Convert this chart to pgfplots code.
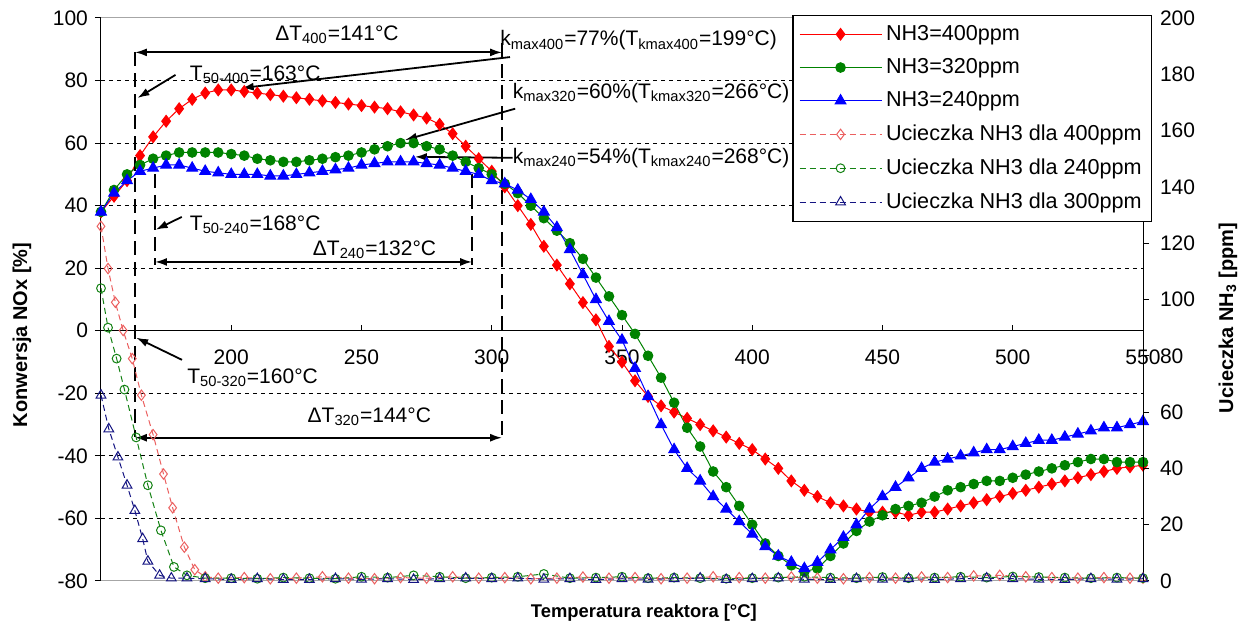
\documentclass[border=0pt]{standalone}
\usepackage{fontspec}
\setmainfont{Liberation Sans}
\usepackage{pgfplots}
\pgfplotsset{compat=1.18}
\usetikzlibrary{arrows.meta}

\definecolor{cRed}{RGB}{255,0,0}
\definecolor{cGreen}{RGB}{0,130,0}
\definecolor{cBlue}{RGB}{0,0,255}
\definecolor{sRed}{RGB}{235,95,95}
\definecolor{sGreen}{RGB}{20,130,20}
\definecolor{sBlue}{RGB}{20,20,130}

\pgfplotsset{
  nox400/.style={cRed, line width=0.5pt, mark=diamond*, mark size=2.9pt, mark options={solid, fill=cRed}},
  nox320/.style={cGreen, line width=0.5pt, mark=*, mark size=2.4pt, mark options={solid, fill=cGreen}},
  nox240/.style={cBlue, line width=0.5pt, mark=triangle*, mark size=3.1pt, mark options={solid, fill=cBlue}},
  slip400/.style={sRed, line width=0.5pt, dash pattern=on 3pt off 2pt, mark=diamond, mark size=2.6pt, mark options={solid, fill=white}},
  slip240/.style={sGreen, line width=0.5pt, dash pattern=on 3pt off 2pt, mark=o, mark size=2.2pt, mark options={solid, fill=white}},
  slip300/.style={sBlue, line width=0.5pt, dash pattern=on 3pt off 2pt, mark=triangle, mark size=2.8pt, mark options={solid, fill=white}},
}

\newcommand{\ann}{\fontsize{10.5}{12.5}\selectfont}

\begin{document}
\begin{tikzpicture}
\begin{axis}[
  scale only axis, width=521pt, height=281.5pt,
  xmin=150, xmax=550, ymin=-80, ymax=100,
  axis x line*=middle, axis y line*=left, axis line style={-, black, line width=0.5pt},
  xtick={150,200,...,550}, ytick={-80,-60,...,100},
  minor ytick={-60,-40,-20,20,40,60,80}, yminorgrids,
  minor grid style={black, line width=0.5pt, dash pattern=on 2pt off 2pt},
  minor tick length=0pt, major tick length=3pt,
  ytick align=outside, xtick align=inside, tick style={black, line width=0.5pt},
  /pgf/number format/assume math mode=true,
  ticklabel style={font=\fontsize{10.5}{12}\selectfont},
  xticklabel style={yshift=-6pt},
  xlabel={\textbf{Temperatura reaktora [°C]}},
  ylabel={\textbf{Konwersja NOx [\%]}},
  xlabel style={font=\fontsize{9.2}{11}\selectfont, at={(axis description cs:0.521,-0.057)}, anchor=center},
  ylabel style={font=\fontsize{10}{12}\selectfont, at={(axis description cs:-0.0758,0.437)}, anchor=center},
  clip=false,
]
\draw[gray!70, line width=0.5pt] (rel axis cs:0,1) -- (rel axis cs:1,1);
\draw[gray!70, line width=0.5pt] (rel axis cs:0,0) -- (rel axis cs:1,0);

% NH3 = 400 ppm
\addplot[nox400] table {
150 38
155 43
160 48
165 56
170 62
175 67
180 71
185 74
190 76
195 77
200 77
205 76.5
210 76
215 75.5
220 75
225 74.5
230 74
235 73.5
240 73
245 72.5
250 72
255 71.5
260 71
265 70
270 69
275 68
280 66
285 63
290 59
295 55
300 51
305 46
310 40
315 34
320 27
325 21
330 15
335 9
340 3.5
345 -5
350 -10
355 -16
360 -21
365 -24
370 -26
375 -28
380 -30
385 -32
390 -34
395 -36
400 -38
405 -41
410 -44
415 -48
420 -51
425 -53
430 -55
435 -56
440 -57
445 -58
450 -58
455 -58
460 -59
465 -58
470 -58
475 -57
480 -56
485 -55
490 -54
495 -53
500 -52
505 -51
510 -50
515 -49
520 -48
525 -47
530 -46
535 -45
540 -44
545 -43.5
550 -43
};
% NH3 = 320 ppm
\addplot[nox320] table {
150 38
155 45
160 50
165 53
170 55
175 56
180 57
185 57
190 57
195 57
200 56.5
205 56
210 55
215 54.5
220 54
225 54
230 54.5
235 55
240 55.5
245 56
250 57
255 58
260 59
265 60
270 60
275 59
280 58
285 56
290 54
295 52
300 50
305 47
310 44
315 40
320 36
325 32
330 28
335 23
340 17
345 11
350 5
355 -1
360 -8
365 -15
370 -23
375 -31
380 -37
385 -45
390 -50
395 -56
400 -62
405 -68
410 -72
415 -75
420 -77
425 -76
430 -72
435 -68
440 -64
445 -61
450 -59
455 -57
460 -56
465 -55
470 -53
475 -51
480 -50
485 -49
490 -48
495 -48
500 -47
505 -46
510 -45
515 -44
520 -43
525 -42
530 -41
535 -41
540 -42
545 -42
550 -42
};
% NH3 = 240 ppm
\addplot[nox240] table {
150 38
155 44
160 48
165 51
170 52
175 53
180 53
185 52
190 51
195 50.5
200 50
205 50
210 50
215 49.5
220 49.5
225 50
230 50.5
235 51
240 51.5
245 52
250 53
255 53.5
260 54
265 54
270 54
275 53.5
280 53
285 52
290 51
295 50
300 48
305 47
310 45
315 42
320 38
325 33
330 26
335 18
340 10
345 3
350 -3
355 -12
360 -21
365 -30
370 -38
375 -44
380 -48
385 -53
390 -57
395 -61
400 -65
405 -69
410 -72
415 -74
420 -76
425 -74
430 -70
435 -66
440 -62
445 -57
450 -53
455 -50
460 -47
465 -44
470 -42
475 -41
480 -40
485 -39
490 -38
495 -38
500 -37
505 -36
510 -35
515 -35
520 -34
525 -33
530 -32
535 -31
540 -31
545 -30
550 -29
};

% annotations
\tikzset{vdash/.style={black, line width=0.9pt, dash pattern=on 7pt off 3.5pt},
         dimarr/.style={black, line width=1pt, {Latex[length=6pt,width=4pt]}-{Latex[length=6pt,width=4pt]}},
         parr/.style={black, line width=0.9pt, -{Latex[length=6pt,width=4pt]}}}
\draw[vdash] (axis cs:163,89) -- (axis cs:163,-34);
\draw[vdash] (axis cs:304,92) -- (axis cs:304,-34);
\draw[vdash] (axis cs:170.7,50) -- (axis cs:170.7,21);
\draw[vdash] (axis cs:292.5,50) -- (axis cs:292.5,21);
\draw[dimarr] (axis cs:163,89) -- (axis cs:304,89);
\draw[dimarr] (axis cs:170.7,22) -- (axis cs:292.5,22);
\draw[dimarr] (axis cs:163,-34.2) -- (axis cs:304,-34.2);
\node[font=\ann] at (axis cs:240.6,94.6) {ΔT\textsubscript{400}=141°C};
\node[font=\ann] at (axis cs:255,25.9) {ΔT\textsubscript{240}=132°C};
\node[font=\ann] at (axis cs:253,-27.5) {ΔT\textsubscript{320}=144°C};
\node[font=\ann, anchor=west, inner sep=0pt] at (axis cs:184,81.8) {T\textsubscript{50-400}=163°C};
\draw[parr] (axis cs:178.6,81.8) -- (axis cs:164,74.4);
\node[font=\ann, anchor=west, inner sep=0pt] at (axis cs:184,33.9) {T\textsubscript{50-240}=168°C};
\draw[parr] (axis cs:181,36.4) -- (axis cs:171,32.3);
\node[font=\ann, anchor=west, inner sep=0pt] at (axis cs:183,-15) {T\textsubscript{50-320}=160°C};
\draw[parr] (axis cs:181.1,-9.3) -- (axis cs:163.5,-2.2);
\node[font=\ann, anchor=west, inner sep=0pt] at (axis cs:303.2,92.8) {k\textsubscript{max400}=77\%(T\textsubscript{kmax400}=199°C)};
\draw[parr] (axis cs:307,87.5) -- (axis cs:204,77.6);
\node[font=\ann, anchor=west, inner sep=0pt] at (axis cs:308,76) {k\textsubscript{max320}=60\%(T\textsubscript{kmax320}=266°C)};
\draw[parr] (axis cs:309,71) -- (axis cs:266.7,61);
\node[font=\ann, anchor=west, inner sep=0pt] at (axis cs:308,55.3) {k\textsubscript{max240}=54\%(T\textsubscript{kmax240}=268°C)};
\draw[parr] (axis cs:308,55.3) -- (axis cs:270.5,55.6);
\end{axis}

\begin{axis}[
  scale only axis, width=521pt, height=281.5pt,
  xmin=150, xmax=550, ymin=0, ymax=200,
  axis x line=none, axis y line*=right, axis line style={-, black, line width=0.5pt},
  ytick={0,20,...,200}, major tick length=3pt, tick align=outside,
  tick style={black, line width=0.5pt},
  /pgf/number format/assume math mode=true,
  ticklabel style={font=\fontsize{10.5}{12}\selectfont},
  yticklabel style={xshift=2pt},
  ylabel={\textbf{Ucieczka NH\textsubscript{3} [ppm]}},
  ylabel style={font=\fontsize{10}{12}\selectfont, at={(axis description cs:1.0816,0.467)}, anchor=center},
  clip=false,
  legend style={at={(rel axis cs:1.009,1.006)}, anchor=north east, draw=black, fill=white,
    font=\fontsize{10.8}{12.5}\selectfont, row sep=3.6pt, inner xsep=3pt, inner ysep=3pt,
    cells={anchor=west}, line width=0.6pt},
  legend image code/.code={\draw[mark repeat=2,mark phase=2,#1] plot coordinates {(0pt,0pt) (20.5pt,0pt) (41pt,0pt)};},
]
\addlegendimage{nox400}\addlegendentry{NH3=400ppm}
\addlegendimage{nox320}\addlegendentry{NH3=320ppm}
\addlegendimage{nox240}\addlegendentry{NH3=240ppm}

% slip 400 ppm
\addplot[slip400] table {
150 126
152.7 111
155.5 99
158.5 89
162 79
165.5 66
170 52
174 38
177.5 26
182 12
186 4
190 1.5
195 1
205 1.2
215 0.8
225 1
235 1.5
245 1
255 0.8
265 1.2
275 1
285 1.5
295 1
305 1.2
315 0.8
325 1
335 1.4
345 1
355 1.2
365 0.8
375 1
385 1.5
395 1.2
405 1
415 1.4
425 1
435 0.8
445 1.2
455 1
465 1.4
475 1.2
485 1.8
495 2
505 1.5
515 1.2
525 1
535 1.2
545 1
550 1
};
\addlegendentry{Ucieczka NH3 dla 400ppm}
% slip 240 ppm
\addplot[slip240] table {
150 104
152.7 90
156 79
159 68
163.5 51
168 34
173 18
178 5
183 2
190 1
200 1
210 0.8
220 1.2
230 1
240 0.8
250 1.5
260 1.2
270 2
280 1.5
290 1
300 1.2
310 1.5
320 2.5
330 1
340 1.2
350 1.5
360 1
370 1.2
380 1
390 0.8
400 1
410 1.2
420 1.5
430 1.2
440 1
450 1.4
460 1
470 1.2
480 1.5
490 1.2
500 1.6
510 1.4
520 1.2
530 1
540 1.2
550 1
};
\addlegendentry{Ucieczka NH3 dla 240ppm}
% slip 300 ppm
\addplot[slip300] table {
150 66
153 54
156.5 44
160 34
163 25
166 15
168 7
172.5 2
177 1
183 1
190 0.8
200 0.5
210 0.8
220 0.5
230 0.5
240 0.8
250 0.6
260 0.8
270 0.5
280 0.8
290 1
300 0.8
310 1
320 0.6
330 0.8
340 0.5
350 0.8
360 0.6
370 0.8
380 1
390 0.5
400 0.8
410 1
420 0.6
430 0.5
440 0.8
450 0.6
460 0.8
470 0.5
480 0.8
490 1
500 0.8
510 0.6
520 0.5
530 0.8
540 0.6
550 0.8
};
\addlegendentry{Ucieczka NH3 dla 300ppm}
\end{axis}
\pgfresetboundingbox
\path[use as bounding box] (-50.5pt,-27pt) rectangle (571pt,290.5pt);
\end{tikzpicture}
\end{document}
